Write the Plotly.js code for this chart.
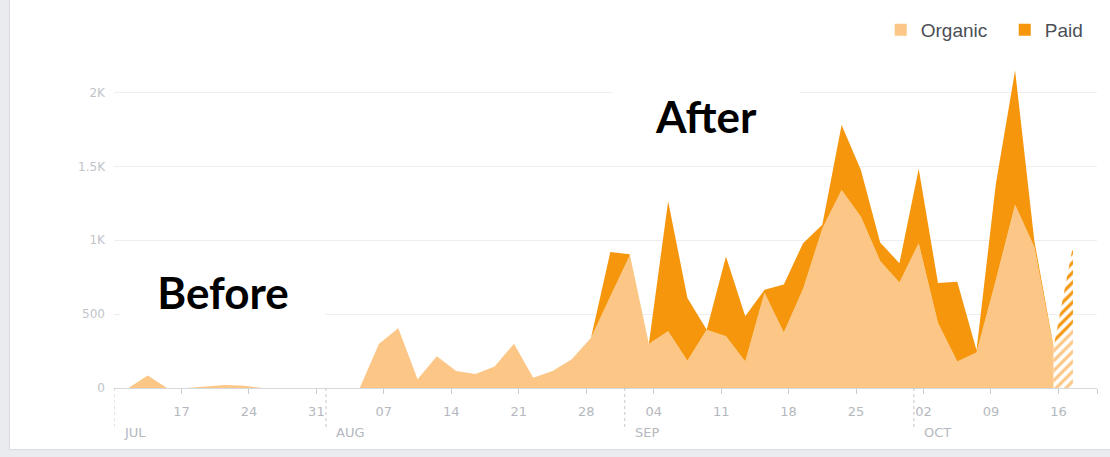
<!DOCTYPE html>
<html>
<head>
<meta charset="utf-8">
<script src="https://cdn.plot.ly/plotly-3.0.1.min.js"></script>
<style>
  html, body { margin: 0; padding: 0; background: #e9ebee; width: 1110px; height: 457px; overflow: hidden; }
  #card { position: absolute; left: 9px; top: -2px; width: 1110px; height: 451px; background: #ffffff; border-left: 1px solid #d8dbdf; border-bottom: 1px solid #d8dbdf; }
  #chart { position: absolute; left: 0; top: 0; width: 1110px; height: 457px; }
</style>
</head>
<body>
<div id="card"></div>
<div id="chart"></div>
<script>
// ---- data ----
const dates = [
  '2017-07-11 12:00','2017-07-13 12:00','2017-07-15 12:00','2017-07-17 12:00','2017-07-19 12:00',
  '2017-07-21 12:00','2017-07-23 12:00','2017-07-25 12:00','2017-07-27 12:00','2017-07-29 12:00',
  '2017-07-31 12:00','2017-08-02 12:00','2017-08-04 12:00','2017-08-06 12:00','2017-08-08 12:00',
  '2017-08-10 12:00','2017-08-12 12:00','2017-08-14 12:00','2017-08-16 12:00','2017-08-18 12:00',
  '2017-08-20 12:00','2017-08-22 12:00','2017-08-24 12:00','2017-08-26 12:00','2017-08-28 12:00',
  '2017-08-30 12:00','2017-09-01 12:00','2017-09-03 12:00','2017-09-05 12:00','2017-09-07 12:00',
  '2017-09-09 12:00','2017-09-11 12:00','2017-09-13 12:00','2017-09-15 12:00','2017-09-17 12:00',
  '2017-09-19 12:00','2017-09-21 12:00','2017-09-23 12:00','2017-09-25 12:00','2017-09-27 12:00',
  '2017-09-29 12:00','2017-10-01 12:00','2017-10-03 12:00','2017-10-05 12:00','2017-10-07 12:00',
  '2017-10-09 12:00','2017-10-11 12:00','2017-10-13 12:00','2017-10-15 12:00'
];
const organic = [
  0, 85, 0, 0, 10, 20, 15, 0, 0, 0,
  0, 0, 0, 300, 405, 60, 215, 115, 95, 145,
  300, 70, 115, 195, 340, 620, 895, 300, 385, 185,
  395, 350, 180, 645, 375, 670, 1080, 1340, 1160, 860,
  715, 980, 440, 180, 240, 730, 1240, 955, 265
];
const paid = [
  0, 0, 0, 0, 0, 0, 0, 0, 0, 0,
  0, 0, 0, 0, 0, 0, 0, 0, 0, 0,
  0, 0, 0, 0, 0, 300, 10, 0, 880, 425,
  0, 540, 305, 20, 325, 310, 25, 440, 315, 125,
  130, 505, 270, 540, 15, 650, 910, 40, 15
];
// incomplete (hatched) last period
const partialDates = ['2017-10-15 12:00', '2017-10-17 12:00'];
const partialOrganic = [265, 440];
const partialPaid = [15, 520];

const tickDates = ['2017-07-17','2017-07-24','2017-07-31','2017-08-07','2017-08-14','2017-08-21','2017-08-28',
                   '2017-09-04','2017-09-11','2017-09-18','2017-09-25','2017-10-02','2017-10-09','2017-10-16','2017-10-20'];
const tickLabels = ['17','24','31','07','14','21','28','04','11','18','25','02','09','16',''];
const monthDates = ['2017-07-10','2017-08-01','2017-09-01','2017-10-01'];
const monthLabels = ['JUL','AUG','SEP','OCT'];
const yTickVals = [0, 500, 1000, 1500, 2000];
const yTickText = ['0', '500', '1K', '1.5K', '2K'];
const seriesNames = ['Organic', 'Paid'];
const colOrganic = '#fcc786';
const colPaid = '#f5960c';

const traces = [
  { x: dates, y: organic, type: 'scatter', mode: 'none', stackgroup: 'main', fillcolor: colOrganic,
    name: seriesNames[0], showlegend: false, hoverinfo: 'skip' },
  { x: dates, y: paid, type: 'scatter', mode: 'none', stackgroup: 'main', fillcolor: colPaid,
    name: seriesNames[1], showlegend: false, hoverinfo: 'skip' },
  { x: partialDates, y: partialOrganic, type: 'scatter', mode: 'none', stackgroup: 'partial',
    fillpattern: { shape: '/', fgcolor: colOrganic, bgcolor: '#ffffff', size: 7, solidity: 0.45 },
    showlegend: false, hoverinfo: 'skip' },
  { x: partialDates, y: partialPaid, type: 'scatter', mode: 'none', stackgroup: 'partial',
    fillpattern: { shape: '/', fgcolor: colPaid, bgcolor: '#ffffff', size: 7, solidity: 0.45 },
    showlegend: false, hoverinfo: 'skip' },
  { x: [null], y: [null], type: 'bar', name: seriesNames[0], marker: { color: colOrganic }, hoverinfo: 'skip' },
  { x: [null], y: [null], type: 'bar', name: seriesNames[1], marker: { color: colPaid }, hoverinfo: 'skip' }
];

const shapes = monthDates.map(d => ({
  type: 'line', xref: 'x', yref: 'paper', x0: d, x1: d, y0: 0, y1: -0.13,
  line: { color: '#c3c7cc', width: 1, dash: 'dot' }
}));

const annotations = monthDates.map((d, i) => ({
  x: d, xref: 'x', y: -0.138, yref: 'paper', text: monthLabels[i], showarrow: false,
  xanchor: 'left', yanchor: 'middle', xshift: 8,
  font: { family: 'DejaVu Sans', size: 13, color: '#b4b8be' }
}));
annotations.push({
  x: 0.1109, xref: 'paper', y: 0.2954, yref: 'paper', text: '<b>Before</b>', showarrow: false,
  xanchor: 'center', yanchor: 'middle', width: 202, height: 56, bgcolor: '#ffffff',
  font: { family: 'Lato', size: 44, color: '#000000' }
});
annotations.push({
  x: 0.6022, xref: 'paper', y: 0.8369, yref: 'paper', text: '<b>After</b>', showarrow: false,
  xanchor: 'center', yanchor: 'middle', width: 184, height: 56, bgcolor: '#ffffff',
  font: { family: 'Lato', size: 44, color: '#000000' }
});

const layout = {
  width: 1110, height: 457,
  margin: { l: 114, r: 13, t: 63, b: 69, autoexpand: false },
  paper_bgcolor: 'rgba(0,0,0,0)', plot_bgcolor: 'rgba(0,0,0,0)',
  showlegend: true,
  legend: {
    orientation: 'h', traceorder: 'normal', x: 0.780, xanchor: 'left', y: 1.1015, yanchor: 'middle',
    font: { family: 'Liberation Sans', size: 19, color: '#4b4f56' },
    entrywidth: 79, entrywidthmode: 'pixels', bgcolor: 'rgba(0,0,0,0)'
  },
  xaxis: {
    type: 'date', range: ['2017-07-10', '2017-10-20'], fixedrange: true,
    tickmode: 'array', tickvals: tickDates, ticktext: tickLabels,
    ticks: 'outside', ticklen: 5, tickwidth: 1, tickcolor: '#c8ccd1',
    showline: true, linecolor: '#d6d9dd', linewidth: 1,
    showgrid: false, zeroline: false, ticklabelstandoff: 6,
    tickfont: { family: 'DejaVu Sans', size: 13, color: '#b4b8be' }
  },
  yaxis: {
    range: [0, 2200], fixedrange: true,
    tickmode: 'array', tickvals: yTickVals, ticktext: yTickText,
    showgrid: true, gridcolor: '#eceef1', gridwidth: 1, zeroline: false, showline: false,
    ticks: '', ticklabelstandoff: 8,
    tickfont: { family: 'DejaVu Sans', size: 12, color: '#c0c4ca' }
  },
  shapes: shapes,
  annotations: annotations
};

Plotly.newPlot('chart', traces, layout, { displayModeBar: false, staticPlot: true });
</script>
</body>
</html>
